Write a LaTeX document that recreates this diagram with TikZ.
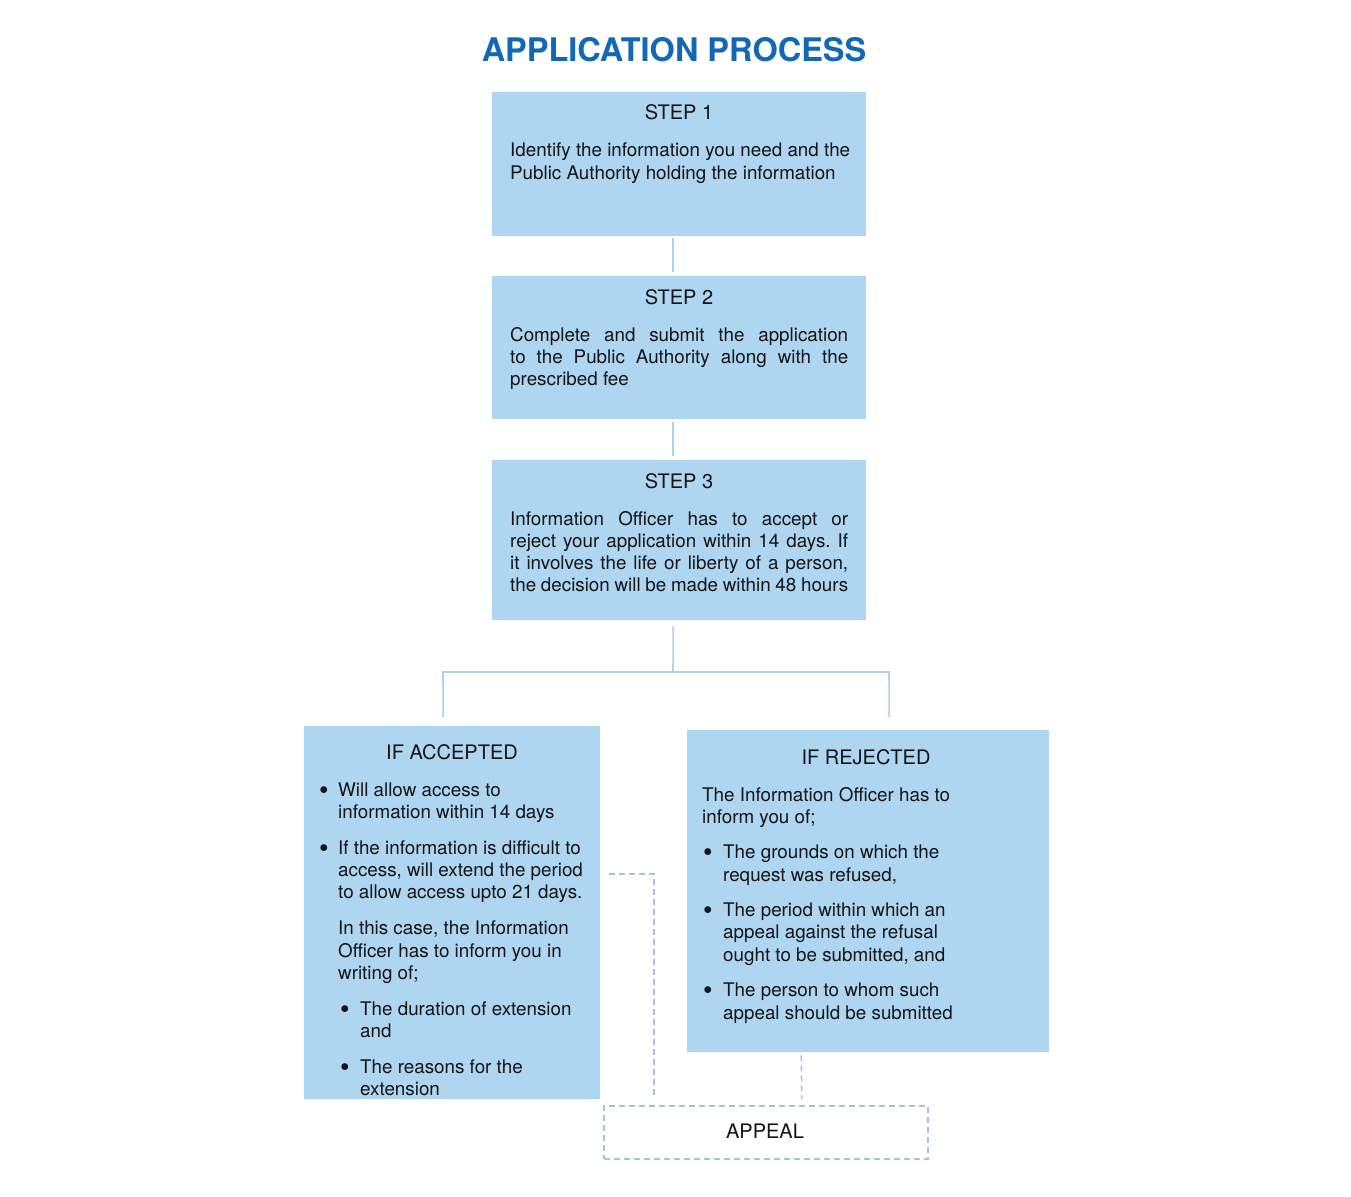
\documentclass[tikz,border=0pt]{standalone}
\usepackage{fontspec}
\usepackage{graphicx}
\setmainfont{TeX Gyre Heros}
\usetikzlibrary{calc}
\definecolor{boxblue}{RGB}{174,214,241}
\definecolor{titleblue}{RGB}{18,104,180}
\definecolor{connblue}{RGB}{172,211,237}
\definecolor{dashblue}{RGB}{168,196,218}
\definecolor{txt}{RGB}{20,20,20}
\frenchspacing
\newcommand\bodyfont{\fontsize{18.8}{22.3}\selectfont}
\newcommand\headfont{\fontsize{20}{24}\selectfont}
\newcommand\nl{\hfil\break}
\newcommand\bigbul{\raisebox{-3pt}{\scalebox{1.45}{\textbullet}}}
% bullet item: #1 space before bullet, #2 bullet box width, #3 text
\newcommand\bitem[3]{\par\noindent\hangindent=\dimexpr#1+#2\relax\hangafter=1\hskip#1\makebox[#2][l]{\bigbul}#3}
\tikzset{
  bluebox/.style={fill=boxblue, draw=none, inner sep=0pt, anchor=north west},
  conn/.style={draw=connblue, line width=1.6pt},
  dashconn/.style={draw=dashblue, line width=1.5pt, dash pattern=on 6pt off 4pt},
  appealbox/.style={draw=dashblue, line width=1.5pt, dash pattern=on 6pt off 4pt, fill=white, inner sep=0pt, anchor=north west},
  bodytext/.style={anchor=base west, inner sep=0pt, text=txt},
  headtext/.style={anchor=base, inner sep=0pt, text=txt, font=\headfont},
}
\begin{document}
\begin{tikzpicture}[x=1pt, y=-1pt]
\useasboundingbox (0,0) rectangle (1351,1196);
\fill[white] (0,0) rectangle (1351,1196);

% title
\node[anchor=base, inner sep=0pt, text=titleblue, font=\fontsize{32.5}{36}\selectfont\bfseries] (title) at (674,62) {APPLICATION PROCESS};

% boxes
\node[bluebox, minimum width=374pt, minimum height=144pt] (step1) at (492,92) {};
\node[bluebox, minimum width=374pt, minimum height=143pt] (step2) at (492,276) {};
\node[bluebox, minimum width=374pt, minimum height=160pt] (step3) at (492,460) {};
\node[bluebox, minimum width=296pt, minimum height=373pt] (acc) at (304,726) {};
\node[bluebox, minimum width=362pt, minimum height=322pt] (rej) at (687,730) {};
\node[appealbox, minimum width=324pt, minimum height=53pt] (appeal) at (603,1105) {};

% step texts
\node[headtext] (h1) at (679,120) {STEP 1};
\node[bodytext] (t1) at (510,157) {\parbox[t]{340pt}{\bodyfont\raggedright
Identify the information you need and the\nl
Public Authority holding the information}};

\node[headtext] (h2) at (679,304) {STEP 2};
\node[bodytext] (t2) at (510,341) {\parbox[t]{338pt}{\bodyfont\tolerance=10000\hbadness=10000
Complete and submit the application\linebreak
to the Public Authority along with the\linebreak
prescribed fee}};

\node[headtext] (h3) at (679,488) {STEP 3};
\node[bodytext] (t3) at (510,525) {\parbox[t]{338pt}{\bodyfont\tolerance=10000\hbadness=10000\parfillskip=0pt
Information Officer has to accept or\linebreak
reject your application within 14 days. If\linebreak
it involves the life or liberty of a person,\linebreak
the decision will be made within 48 hours}};

% accepted
\node[headtext] (ha) at (452,759) {IF ACCEPTED};
\node[bodytext] (ta) at (319,796) {\parbox[t]{290pt}{\bodyfont\raggedright\parskip=13.6pt
\bitem{0pt}{19pt}{Will allow access to\nl information within 14 days}
\bitem{0pt}{19pt}{If the information is difficult to\nl access, will extend the period\nl to allow access upto 21 days.}
\par\noindent\leftskip=19pt In this case, the Information\nl Officer has to inform you in\nl writing of;
\par\leftskip=0pt
\bitem{21pt}{20pt}{The duration of extension\nl and}
\bitem{21pt}{20pt}{The reasons for the\nl extension}\par}};

% rejected
\node[headtext] (hr) at (866,764) {IF REJECTED};
\node[bodytext] (tr) at (702,801) {\parbox[t]{320pt}{\bodyfont\raggedright\parskip=13.2pt
\noindent The Information Officer has to\nl inform you of;
\bitem{1pt}{20pt}{The grounds on which the\nl request was refused,}
\bitem{1pt}{20pt}{The period within which an\nl appeal against the refusal\nl ought to be submitted, and}
\bitem{1pt}{20pt}{The person to whom such\nl appeal should be submitted}\par}};

% appeal
\node[anchor=base, inner sep=0pt, text=txt, font=\headfont] (ap) at (765,1138) {APPEAL};

% solid connectors
\draw[conn] ([xshift=-6pt,yshift=-2pt]step1.south) -- ([xshift=-6pt,yshift=4pt]step2.north);
\draw[conn] ([xshift=-6pt,yshift=-3pt]step2.south) -- ([xshift=-6pt,yshift=4pt]step3.north);
\coordinate (fork) at (673,672);
\coordinate (forkL) at (443,672);
\coordinate (forkR) at (889,672);
\draw[conn] ([xshift=-6pt,yshift=-6pt]step3.south) -- (fork);
\draw[conn] ($(acc.north)+(-9,-9)$) -- (forkL) -- (forkR) -- ($(rej.north)+(21,-13)$);

% dashed connectors
\draw[dashconn] ($(acc.north east)+(9,148)$) -| ($(appeal.north west)+(51,-9)$);
\draw[dashconn] ($(rej.south)+(-67,3)$) -- ($(appeal.north)+(36,-6)$);
\end{tikzpicture}
\end{document}
